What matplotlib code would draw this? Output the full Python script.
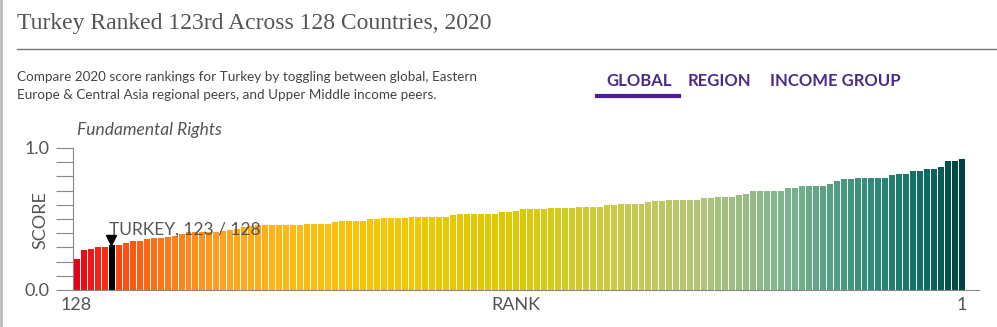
import numpy as np
from matplotlib import pyplot as plt
from matplotlib.colors import LinearSegmentedColormap

# Scores, ordered from rank 128 (left) to rank 1 (right).
scores = ([0.223, 0.286, 0.296, 0.312, 0.312, 0.322, 0.322, 0.340, 0.352, 0.352,
           0.364, 0.371, 0.371, 0.380, 0.390, 0.404, 0.413, 0.413, 0.413, 0.413,
           0.413, 0.420, 0.430, 0.440, 0.450, 0.460]
          + [0.465] * 7 + [0.474] * 4 + [0.484] + [0.493] * 4 + [0.505] * 2
          + [0.514] * 4 + [0.523] * 6 + [0.535] + [0.545] * 6 + [0.556] * 2
          + [0.563] + [0.575] * 4 + [0.585] * 4 + [0.594] * 4 + [0.603] * 2
          + [0.613] * 4 + [0.624] + [0.634] * 2 + [0.643] * 5 + [0.655] * 2
          + [0.664] * 3 + [0.674] + [0.685] + [0.704] * 5 + [0.725] * 2
          + [0.737] * 4 + [0.756] + [0.775] + [0.786] * 2 + [0.796] * 5
          + [0.815] + [0.826] * 2 + [0.845] * 2 + [0.857] * 2 + [0.876]
          + [0.918] * 2 + [0.927])
n_countries = 128
turkey_rank = 123
turkey_label = 'TURKEY, 123 / 128'

title = 'Turkey Ranked 123rd Across 128 Countries, 2020'
subtitle = ('Compare 2020 score rankings for Turkey by toggling between global, Eastern\n'
            'Europe & Central Asia regional peers, and Upper Middle income peers.')
tabs = ['GLOBAL', 'REGION', 'INCOME GROUP']

W, H = 997, 327
fig = plt.figure(figsize=(W / 100, H / 100), dpi=100)

def fx(px):
    return px / W

def fy(py):
    return 1 - py / H

grey = '#555555'
purple = '#4a2a8c'

# Header
fig.text(fx(17), fy(24), title, fontsize=17, family='Liberation Serif',
         color=grey, va='center', ha='left')
fig.add_artist(plt.Line2D([fx(17), 1], [fy(49), fy(49)], color='#777777', lw=1))
fig.add_artist(plt.Line2D([fx(1), fx(1)], [0, 1], color='#bbbbbb', lw=2))
fig.text(fx(17), fy(86), subtitle, fontsize=9.7, family='Lato', color='#444444',
         va='center', ha='left', linespacing=1.6)

tab_x = [606, 688, 770]
for label, x in zip(tabs, tab_x):
    fig.text(fx(x), fy(81), label, fontsize=12, family='Lato', weight='bold',
             color=purple, va='center', ha='left')
fig.add_artist(plt.Line2D([fx(597), fx(679)], [fy(96), fy(96)], color='#4b1f9a', lw=3))

# Chart
ax = fig.add_axes([fx(73), fy(290), fx(979) - fx(73), fy(148) - fy(290)])

cmap = LinearSegmentedColormap.from_list('rank', [
    (0.0, '#e8001a'), (0.05, '#ff4a10'), (0.1, '#ff7a18'), (0.16, '#ffa020'),
    (0.24, '#ffba12'), (0.34, '#f8c600'), (0.5, '#dcc800'), (0.6, '#cccb40'),
    (0.7, '#b4c574'), (0.8, '#7fb690'), (0.9, '#2f8a78'), (0.96, '#0d6a62'),
    (1.0, '#00423f')])

x = np.arange(n_countries)
colors = [cmap(i / (n_countries - 1)) for i in x]
turkey_idx = n_countries - turkey_rank
colors[turkey_idx] = 'black'
ax.bar(x, scores, width=1.0, color=colors, edgecolor='white', linewidth=0.7)

ax.plot(turkey_idx, scores[turkey_idx] + 0.028, marker='v', color='black',
        markersize=7, linestyle='none')
ax.text(turkey_idx - 0.4, scores[turkey_idx] + 0.05, turkey_label, fontsize=12.5,
        family='Lato', color=grey, ha='left', va='bottom')

ax.set_xlim(-0.5, 129.5)
ax.set_ylim(0, 1.0)
for side in ['top', 'right']:
    ax.spines[side].set_visible(False)
ax.spines['left'].set_color('#888888')
ax.spines['bottom'].set_color('#888888')

ax.set_yticks(np.arange(0, 1.01, 0.1))
ax.set_yticklabels(['0.0'] + [''] * 9 + ['1.0'])
ax.tick_params(axis='y', length=12, color='#888888', labelsize=13,
               labelcolor=grey, pad=5)
for t in ax.get_yticklabels():
    t.set_family('Lato')

ax.set_xticks([0, n_countries - 1])
ax.set_xticklabels(['128', '1'])
ax.tick_params(axis='x', length=0, labelsize=13, labelcolor=grey, pad=5)
for t in ax.get_xticklabels():
    t.set_family('Lato')

fig.text(fx(516), fy(305), 'RANK', fontsize=13, family='Lato', color=grey,
         ha='center', va='center')
fig.text(fx(40), fy(220), 'SCORE', fontsize=13, family='Lato', color=grey,
         ha='center', va='center', rotation=90)
fig.text(fx(77), fy(130), 'Fundamental Rights', fontsize=12.5, family='Lato',
         style='italic', color=grey, ha='left', va='center')

fig.savefig('out.png', dpi=100)
